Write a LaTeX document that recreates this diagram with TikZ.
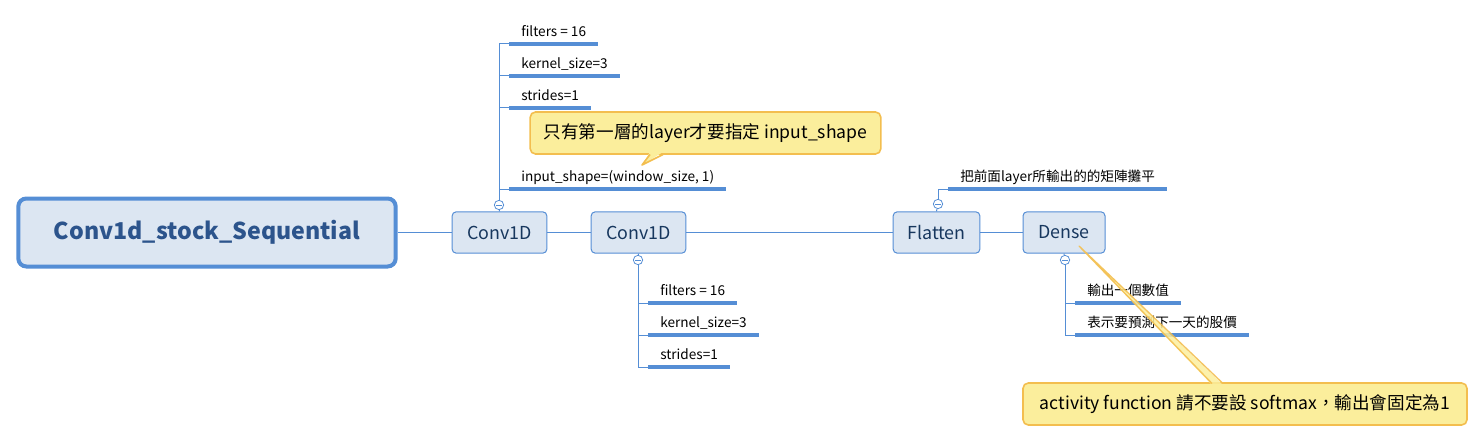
\documentclass[tikz,border=0pt]{standalone}
\usepackage{fontspec}
\setmainfont{Noto Sans CJK TC}
\usetikzlibrary{positioning}

\definecolor{mmblue}{RGB}{85,142,213}
\definecolor{mmfill}{RGB}{220,230,242}
\definecolor{mmtext}{RGB}{23,55,94}
\definecolor{roottext}{RGB}{44,84,140}
\definecolor{notefill}{RGB}{251,238,156}
\definecolor{noteline}{RGB}{243,190,79}

\begin{document}
\begin{tikzpicture}[
        x=0.75pt, y=-0.75pt,
        every node/.style={align=center},
        root/.style={draw=mmblue, line width=3pt, fill=mmfill, rounded corners=6pt, minimum width=283pt, minimum height=51pt, text=roottext, font=\fontsize{17.4}{20}\selectfont\bfseries},
        layer/.style={draw=mmblue, line width=0.75pt, fill=mmfill, rounded corners=3pt, minimum height=31pt, text=mmtext, font=\fontsize{13.4}{15}\selectfont},
        fold/.style={circle, draw=mmblue, fill=white, inner sep=0pt, minimum size=7pt, line width=0.6pt,
            path picture={\draw[mmblue, line width=0.6pt] ([xshift=-2pt]path picture bounding box.center) -- ([xshift=2pt]path picture bounding box.center);}},
        leaf/.style={anchor=south west, inner xsep=9pt, inner ysep=2.5pt, text depth=3pt, font=\fontsize{10.2}{12}\selectfont},
        uline/.style={draw=mmblue, line width=2.3pt},
        link/.style={draw=mmblue, line width=0.75pt},
        note/.style={draw=noteline, line width=1.2pt, fill=notefill, rounded corners=4pt, minimum height=31.5pt, font=\fontsize{13.2}{15}\selectfont}
    ]
    \useasboundingbox (0,0) rectangle (1484,442);

    % Nodes
    \node[root] (root) at (207,232.5) {Conv1d\_stock\_Sequential};
    \node[layer, minimum width=71pt] (conv1) at (499.5,232.5) {Conv1D};
    \node[layer, minimum width=71pt] (conv2) at (638.5,232.5) {Conv1D};
    \node[layer, minimum width=65pt] (flat) at (936.5,232.5) {Flatten};
    \node[layer, minimum width=61.5pt] (dense) at (1064,232.5) {Dense};

    \node[fold] (fold1) at (499,205) {};
    \node[fold] (fold2) at (638,260) {};
    \node[fold] (fold3) at (938,204) {};
    \node[fold] (fold4) at (1065,260) {};

    % Edges
    \draw[link] (root) -- (conv1);
    \draw[link] (conv1) -- (conv2);
    \draw[link] (conv2) -- (flat);
    \draw[link] (flat) -- (dense);
    \draw[link] (conv1.north) -- (fold1);
    \draw[link] (conv2.south) -- (fold2);
    \draw[link] (flat.north) -- (fold3);
    \draw[link] (dense.south) -- (fold4);

    % Parameters
    \foreach \n/\y/\t in {a/44/{filters = 16}, b/76/{kernel\_size=3}, c/108/{strides=1}, d/189/{input\_shape=(window\_size, 1)}} {
        \node[leaf] (c1\n) at (509,\y) {\t};
        \draw[uline] (c1\n.south west) -- (c1\n.south east);
        \draw[link] (fold1) |- (c1\n.south west);
    }
    \foreach \n/\y/\t in {a/303/{filters = 16}, b/335/{kernel\_size=3}, c/367/{strides=1}} {
        \node[leaf] (c2\n) at (648,\y) {\t};
        \draw[uline] (c2\n.south west) -- (c2\n.south east);
        \draw[link] (fold2) |- (c2\n.south west);
    }
    \node[leaf] (fl) at (948,189) {把前面layer所輸出的的矩陣攤平};
    \draw[uline] (fl.south west) -- (fl.south east);
    \draw[link] (fold3) |- (fl.south west);
    \foreach \n/\y/\t in {a/303/{輸出一個數值}, b/335/{表示要預測下一天的股價}} {
        \node[leaf] (de\n) at (1075,\y) {\t};
        \draw[uline] (de\n.south west) -- (de\n.south east);
        \draw[link] (fold4) |- (de\n.south west);
    }

    % Notes
    \node[note, minimum width=263pt] (note1) at (705.5,133) {只有第一層的layer才要指定 input\_shape};
    \fill[notefill] (650,152) -- (642,165) -- (663,152) -- cycle;
    \draw[noteline, line width=1.2pt, line join=round] (650,154.5) -- (642,165) -- (663,154.5);

    \node[note, minimum width=333pt] (note2) at (1245,404) {activity function 請不要設 softmax，輸出會固定為1};
    \fill[notefill, opacity=0.85] (1212,385) -- (1079,246) -- (1223,385) -- cycle;
    \draw[noteline, line width=1pt, line join=round, opacity=0.9] (1212,383.5) -- (1079,246) -- (1223,383.5);

\end{tikzpicture}
\end{document}
